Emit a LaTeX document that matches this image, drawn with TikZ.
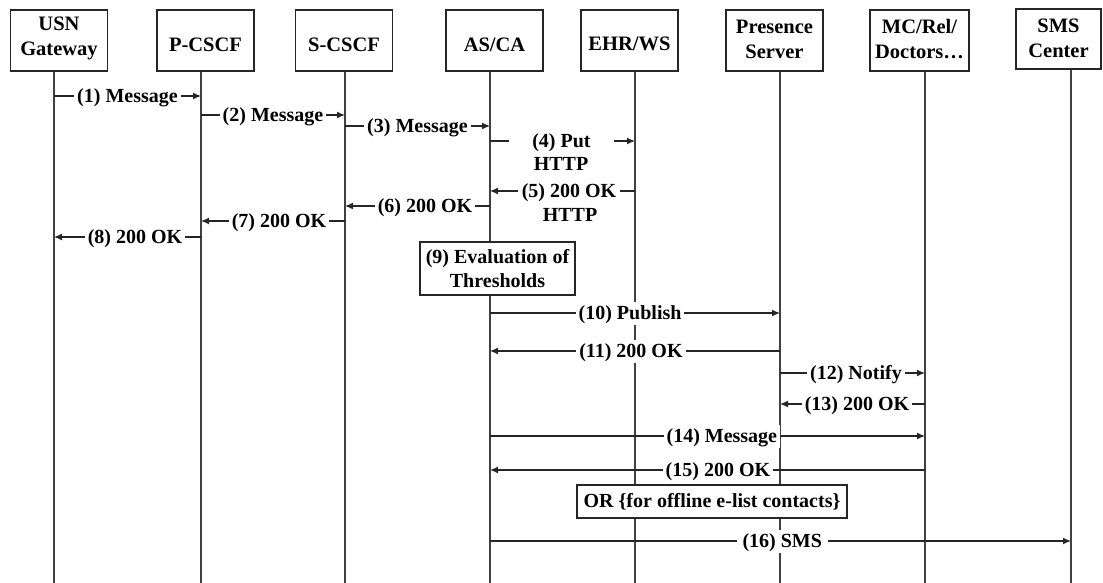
\documentclass[tikz,border=0pt]{standalone}
\usepackage{fontspec}
\setmainfont{Liberation Serif}
\usetikzlibrary{arrows.meta}
\begin{document}
\begin{tikzpicture}[x=1pt,y=-1pt,
  every node/.style={font=\fontsize{20}{24}\selectfont\bfseries},
  hdr/.style={draw=black!85, line width=1.3pt, minimum width=97pt, minimum height=61pt, inner sep=0pt},
  htxt/.style={align=center, inner sep=0pt, font=\fontsize{20.5}{25}\selectfont\bfseries},
  life/.style={line width=1.3pt, draw=black!75},
  msg/.style={line width=1.3pt, draw=black!85, -{Latex[length=8pt,width=7pt]}},
  lbl/.style={fill=white, inner xsep=3pt, inner ysep=1pt, text height=17pt, text depth=4pt},
  note/.style={draw=black!85, fill=white, line width=1.3pt, align=center, inner sep=2pt}]
\useasboundingbox (0,0) rectangle (1103,583);
% header boxes
\node[hdr] (usn) at (59,40.5) {};
\node[hdr] (pcscf) at (205.5,40.5) {};
\node[hdr] (scscf) at (344,40.5) {};
\node[hdr] (asca) at (494.5,40.5) {};
\node[hdr] (ehr) at (629.5,40.5) {};
\node[hdr] (pres) at (774.5,40.5) {};
\node[hdr, minimum width=99pt] (mc) at (919.5,40.5) {};
\node[hdr, minimum width=85pt, minimum height=60pt] (sms) at (1058.5,39) {};
% header texts
\node[htxt] (usnT) at (59,38) {USN\\Gateway};
\node[htxt] (pcscfT) at (205.5,45) {P-CSCF};
\node[htxt] (scscfT) at (344,45) {S-CSCF};
\node[htxt] (ascaT) at (494.5,45) {AS/CA};
\node[htxt] (ehrT) at (629.5,44) {EHR/WS};
\node[htxt] (presT) at (774.5,39) {Presence\\Server};
\node[htxt] (mcT) at (919.5,39) {MC/Rel/\\Doctors\ldots};
\node[htxt] (smsT) at (1058.5,38) {SMS\\Center};
% lifeline ends
\coordinate (l1) at (54,583);
\coordinate (l2) at (201,583);
\coordinate (l3) at (345,583);
\coordinate (l4) at (490,583);
\coordinate (l5) at (635,583);
\coordinate (l6) at (780,583);
\coordinate (l7) at (925,583);
\coordinate (l8) at (1071,583);
\draw[life] (usn.south -| l1) -- (l1);
\draw[life] (pcscf.south -| l2) -- (l2);
\draw[life] (scscf.south -| l3) -- (l3);
\draw[life] (asca.south -| l4) -- (l4);
\draw[life] (ehr.south -| l5) -- (l5);
\draw[life] (pres.south -| l6) -- (l6);
\draw[life] (mc.south -| l7) -- (l7);
\draw[life] (sms.south -| l8) -- (l8);
% messages
\draw[msg] (l1 |- 0,96) -- node[lbl,pos=0.5] (m1) {(1) Message} (l2 |- 0,96);
\draw[msg] (l2 |- 0,115) -- node[lbl,pos=0.5] (m2) {(2) Message} (l3 |- 0,115);
\draw[msg] (l3 |- 0,126) -- node[lbl,pos=0.5] (m3) {(3) Message} (l4 |- 0,126);
\draw[msg] (l4 |- 0,141) -- node[lbl,pos=0.493,inner xsep=23pt] (m4) {(4) Put} (l5 |- 0,141);
\node (m4b) at (561,164) {HTTP};
\draw[msg] (l5 |- 0,191) -- node[lbl,pos=0.455,inner xsep=4pt] (m5) {(5) 200 OK} (l4 |- 0,191);
\node (m5b) at (570,215) {HTTP};
\draw[msg] (l4 |- 0,206) -- node[lbl,pos=0.448] (m6) {(6) 200 OK} (l3 |- 0,206);
\draw[msg] (l3 |- 0,221) -- node[lbl,pos=0.458] (m7) {(7) 200 OK} (l2 |- 0,221);
\draw[msg] (l2 |- 0,237) -- node[lbl,pos=0.449] (m8) {(8) 200 OK} (l1 |- 0,237);
\node[note, minimum width=155pt, minimum height=53pt] (eval) at (497.5,268.5) {(9) Evaluation of\\Thresholds};
\draw[msg] (l4 |- 0,313) -- node[lbl,pos=0.483] (m10) {(10) Publish} (l6 |- 0,313);
\draw[msg] (l6 |- 0,351) -- node[lbl,pos=0.514] (m11) {(11) 200 OK} (l4 |- 0,351);
\draw[msg] (l6 |- 0,373) -- node[lbl,pos=0.524] (m12) {(12) Notify} (l7 |- 0,373);
\draw[msg] (l7 |- 0,404) -- node[lbl,pos=0.469] (m13) {(13) 200 OK} (l6 |- 0,404);
\draw[msg] (l4 |- 0,436) -- node[lbl,pos=0.533] (m14) {(14) Message} (l7 |- 0,436);
\draw[msg] (l7 |- 0,470) -- node[lbl,pos=0.476] (m15) {(15) 200 OK} (l4 |- 0,470);
\node[note, minimum width=270pt, minimum height=33pt, inner sep=1pt] (orbox) at (712,501.5) {OR \{for offline e-list contacts\}};
\draw[msg] (l4 |- 0,541) -- node[lbl,pos=0.503,inner xsep=6pt] (m16) {(16) SMS} (l8 |- 0,541);
\end{tikzpicture}
\end{document}
